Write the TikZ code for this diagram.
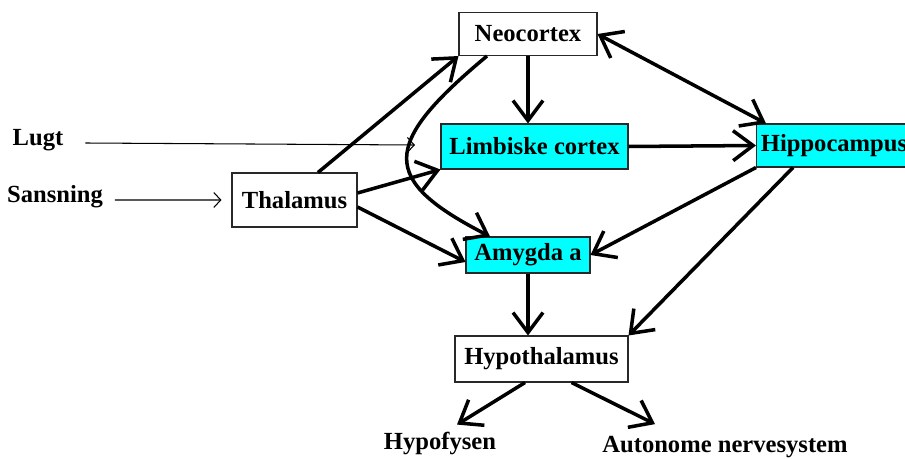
\documentclass[tikz,border=0pt]{standalone}
\usepackage{fontspec}
\setmainfont{Liberation Serif}
\usetikzlibrary{arrows.meta}

\begin{document}
\begin{tikzpicture}[x=0.02cm, y=-0.02cm, >={Straight Barb[length=4mm,width=6mm]}]
        % --- CONFIGURATION ---
        \definecolor{limbCyan}{RGB}{0, 255, 255}   % Cyan
        \definecolor{boxEdge}{RGB}{40, 40, 40}      % Kant
        \tikzset{
            boks/.style={draw=boxEdge, line width=0.6pt, inner sep=0pt,
                font=\fontsize{14}{16}\selectfont\bfseries},
            limbBoks/.style={boks, fill=limbCyan},
            tekst/.style={inner sep=1pt, font=\fontsize{14}{16}\selectfont\bfseries},
            tyk/.style={->, line width=2pt},
            tynd/.style={-{Straight Barb[length=1.4mm,width=3mm]}, line width=0.6pt}
        }

        % Rammen
        \clip (0,0) rectangle (905,459);

        % --- KASSER ---
        \node[boks, minimum width=2.76cm, minimum height=0.86cm] (neo) at (528,34) {Neocortex};
        \node[limbBoks, minimum width=3.74cm, minimum height=0.9cm] (limb) at (534.5,146.5) {Limbiske cortex};
        \node[limbBoks, minimum width=3.1cm, minimum height=0.86cm] (hipp) at (834,145.5) {Hippocampus};
        \node[boks, minimum width=2.5cm, minimum height=1.08cm] (thal) at (294.5,200) {Thalamus};
        \node[limbBoks, minimum width=2.48cm, minimum height=0.72cm] (amyg) at (528,255) {Amygda a};
        \node[boks, minimum width=3.46cm, minimum height=0.92cm] (hypo) at (541.5,359) {Hypothalamus};

        % Tekster uden ramme
        \node[tekst] (lugt) at (38,140) {Lugt};
        \node[tekst] (sans) at (55,197) {Sansning};
        \node[tekst] (hypof) at (440,443) {Hypofysen};
        \node[tekst] (auto) at (725,447) {Autonome nervesystem};
        \coordinate (lugtEnd) at (415,145);

        % --- INPUT (tynde pile) ---
        \draw[tynd] ([xshift=0.4cm,yshift=-0.06cm]lugt.east) -- (lugtEnd);
        \draw[tynd] ([xshift=0.2cm,yshift=-0.06cm]sans.east) -- ([xshift=-0.2cm]thal.west);

        % --- FORBINDELSER ---
        \draw[tyk] (neo.south) -- (neo.south |- limb.north);
        \draw[tyk] ([xshift=0.47cm]thal.north) -- (neo.south west);
        \draw[tyk] ([yshift=0.14cm]thal.east) -- (limb.south west);
        \draw[tyk] ([yshift=-0.14cm]thal.east) -- ([yshift=-0.14cm]amyg.west);
        \draw[tyk] ([xshift=-0.82cm]neo.south) .. controls (380,145) and (380,180) .. ([xshift=-0.76cm]amyg.north);
        \draw[tyk] (limb.east) -- (hipp.west);
        \draw[tyk, <->] (neo.east) -- ([xshift=0.2cm]hipp.north west);
        \draw[tyk] (hipp.south west) -- (amyg.east);
        \draw[tyk] ([xshift=-0.82cm]hipp.south) -- (hypo.north east);
        \draw[tyk] (amyg.south) -- (amyg.south |- hypo.north);

        % Hypothalamus ud
        \draw[tyk] ([xshift=-0.33cm]hypo.south) -- ([xshift=0.34cm,yshift=0.1cm]hypof.north);
        \draw[tyk] ([xshift=0.6cm]hypo.south) -- ([xshift=-1.4cm,yshift=0.2cm]auto.north);

\end{tikzpicture}
\end{document}
